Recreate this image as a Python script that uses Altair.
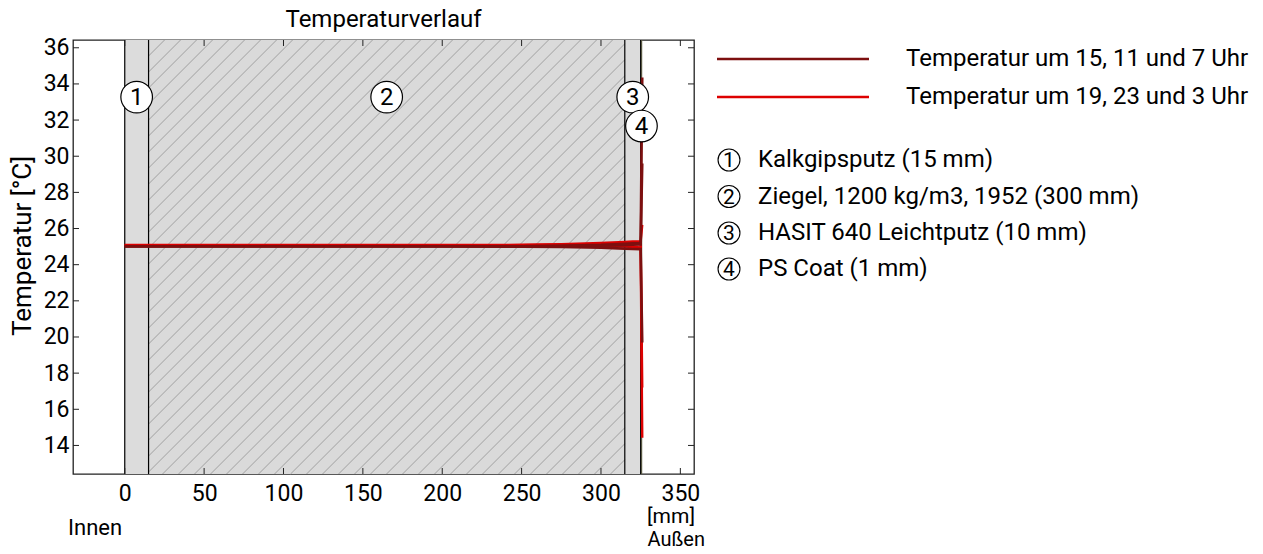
import altair as alt
import pandas as pd

W, H = 621, 434
X_DOMAIN = [-32.6, 358.6]
Y_DOMAIN = [12.42, 36.43]
FONT = "Roboto"

# wall layers
layer_names = ["Kalkgipsputz (15 mm)", "Ziegel, 1200 kg/m3, 1952 (300 mm)",
               "HASIT 640 Leichtputz (10 mm)", "PS Coat (1 mm)"]
layer_nums = ["1", "2", "3", "4"]
layer_x0 = [0, 15, 315, 325]
layer_x1 = [15, 315, 325, 326]
layer_fill = ["#dcdcdc", "#dadada", "#dcdcdc", "#76765a"]
label_x = [7.5, 165, 320, 325.5]
label_y = [33.27, 33.27, 33.27, 31.67]
boundaries = [0, 15, 315, 325]

# temperature profiles
profile_x = [0, 15, 50, 100, 150, 200, 250, 275, 300, 315, 320, 325, 326]
series_names = ["Temperatur um 15, 11 und 7 Uhr", "Temperatur um 19, 23 und 3 Uhr"]
series_colors = ["#7d0f0f", "#dd0000"]
profiles = {
    "15 Uhr": [25.02, 25.02, 25.02, 25.02, 25.02, 25.02, 25.02, 25.05, 25.10, 25.16, 25.18, 25.20, 34.35],
    "11 Uhr": [25.02, 25.02, 25.02, 25.02, 25.02, 25.02, 25.02, 25.03, 25.05, 25.08, 25.10, 25.12, 29.60],
    "7 Uhr":  [25.01, 25.01, 25.01, 25.01, 25.01, 25.01, 25.00, 24.98, 24.94, 24.89, 24.87, 24.86, 19.70],
    "19 Uhr": [25.09, 25.09, 25.09, 25.09, 25.09, 25.09, 25.10, 25.13, 25.20, 25.26, 25.28, 25.30, 26.20],
    "23 Uhr": [25.08, 25.08, 25.08, 25.08, 25.08, 25.08, 25.08, 25.10, 25.14, 25.17, 25.17, 25.16, 17.20],
    "3 Uhr":  [25.07, 25.07, 25.07, 25.07, 25.07, 25.07, 25.07, 25.06, 25.03, 25.00, 24.98, 24.96, 14.42],
}
profile_group = {"15 Uhr": 0, "11 Uhr": 0, "7 Uhr": 0, "19 Uhr": 1, "23 Uhr": 1, "3 Uhr": 1}

x_ticks = [0, 50, 100, 150, 200, 250, 300, 350]
y_ticks = [14, 16, 18, 20, 22, 24, 26, 28, 30, 32, 34, 36]

xs = alt.Scale(domain=X_DOMAIN, nice=False, zero=False)
ys = alt.Scale(domain=Y_DOMAIN, nice=False, zero=False)
xaxis = alt.Axis(values=x_ticks, ticks=False, domain=False, grid=False, title=None,
                 labelPadding=8, labelFontSize=23, labelFont=FONT, labelColor="black")
yaxis = alt.Axis(values=y_ticks, ticks=False, domain=False, grid=False, title=None,
                 labelPadding=4, labelFontSize=23, labelFont=FONT, labelColor="black")


def X(f):
    return alt.X(f, scale=xs, axis=xaxis)


def Y(f):
    return alt.Y(f, scale=ys, axis=yaxis)


# ---------- data frames ----------
layers_df = pd.DataFrame({"name": layer_names, "x0": layer_x0, "x1": layer_x1,
                          "fill": layer_fill, "num": layer_nums,
                          "lx": label_x, "ly": label_y})
bound_df = pd.DataFrame({"x": boundaries})

rows = []
for t, vals in profiles.items():
    for xv, tv in zip(profile_x, vals):
        rows.append({"time": t, "x": xv, "T": tv, "g": profile_group[t],
                     "series": series_names[profile_group[t]]})
prof_df = pd.DataFrame(rows)

# hatch texture for the brick layer (45 degrees in screen space)
sx = W / (X_DOMAIN[1] - X_DOMAIN[0])
sy = H / (Y_DOMAIN[1] - Y_DOMAIN[0])
u0 = (layer_x0[1] - X_DOMAIN[0]) * sx
u1 = (layer_x1[1] - X_DOMAIN[0]) * sx
hatch = []
step = 16.0
c = u0 - H
while c < u1:
    ua = max(u0, c)
    ub = min(u1, c + H)
    if ub > ua:
        hatch.append({"x": X_DOMAIN[0] + ua / sx, "y": Y_DOMAIN[0] + (ua - c) / sy,
                      "x2": X_DOMAIN[0] + ub / sx, "y2": Y_DOMAIN[0] + (ub - c) / sy})
    c += step
hatch_df = pd.DataFrame(hatch)

# ---------- layers ----------
rects = alt.Chart(layers_df).mark_rect(stroke=None).encode(
    x=X("x0:Q"), x2="x1:Q",
    y=alt.value(0), y2=alt.value(H),
    fill=alt.Fill("fill:N", scale=None),
)

hatch_lines = alt.Chart(hatch_df).mark_rule(color="#9a9a9a", strokeWidth=0.9).encode(
    x=X("x:Q"), y=Y("y:Q"), x2="x2:Q", y2="y2:Q",
)

bounds = alt.Chart(bound_df).mark_rule(color="black", strokeWidth=1.2).encode(
    x=X("x:Q"),
)

lines_bright = alt.Chart(prof_df[prof_df["g"] == 1]).mark_line(
    strokeWidth=2.4, color=series_colors[1]).encode(
    x=X("x:Q"), y=Y("T:Q"), detail="time:N", order=alt.Order("x:Q"),
)
lines_dark = alt.Chart(prof_df[prof_df["g"] == 0]).mark_line(
    strokeWidth=2.6, color=series_colors[0]).encode(
    x=X("x:Q"), y=Y("T:Q"), detail="time:N", order=alt.Order("x:Q"),
)

circles = alt.Chart(layers_df).mark_point(shape="circle", size=1000, filled=False,
                                           fill="white", fillOpacity=1,
                                           stroke="black", strokeWidth=1.2, opacity=1).encode(
    x=X("lx:Q"), y=Y("ly:Q"),
)
circle_txt = alt.Chart(layers_df).mark_text(font=FONT, fontSize=24, color="black",
                                             baseline="middle", align="center", dy=1).encode(
    x=X("lx:Q"), y=Y("ly:Q"), text="num:N",
)

# frame ticks (inward)
xt_df = pd.DataFrame({"v": x_ticks})
yt_df = pd.DataFrame({"v": y_ticks})
TL = 6
tick_bottom = alt.Chart(xt_df).mark_rule(color="#222", strokeWidth=1).encode(
    x=X("v:Q"), y=alt.value(H - TL), y2=alt.value(H))
tick_top = alt.Chart(xt_df).mark_rule(color="#222", strokeWidth=1).encode(
    x=X("v:Q"), y=alt.value(0), y2=alt.value(TL))
tick_left = alt.Chart(yt_df).mark_rule(color="#222", strokeWidth=1).encode(
    y=Y("v:Q"), x=alt.value(0), x2=alt.value(TL))
tick_right = alt.Chart(yt_df).mark_rule(color="#222", strokeWidth=1).encode(
    y=Y("v:Q"), x=alt.value(W - TL), x2=alt.value(W))


# texts
def txt(s, x, y, size=23, align="center", angle=0, baseline="middle"):
    return alt.Chart(pd.DataFrame({"t": [s]})).mark_text(
        font=FONT, fontSize=size, color="black", align=align, baseline=baseline,
        angle=angle).encode(x=alt.value(x), y=alt.value(y), text="t:N")


title = txt("Temperaturverlauf", W / 2, -13, size=24, baseline="alphabetic")
ytitle = txt("Temperatur [°C]", -50, 206, size=26, angle=270)
innen = txt("Innen", -5, 488, size=22, align="left")
mm = txt("[mm]", 622, 477, size=21, align="right")
aussen = txt("Außen", 632, 506, size=20, align="right", baseline="alphabetic")

# legend
legend_parts = []
leg_line_y = [19, 57]
for i, name in enumerate(series_names):
    legend_parts.append(
        alt.Chart(pd.DataFrame({"n": [name]})).mark_rule(color=series_colors[i], strokeWidth=2.4)
        .encode(x=alt.value(644), x2=alt.value(796), y=alt.value(leg_line_y[i])))
    legend_parts.append(txt(name, 833, leg_line_y[i], size=24, align="left"))

leg_item_y = [120, 156.5, 193, 229]
for i, name in enumerate(layer_names):
    legend_parts.append(
        alt.Chart(pd.DataFrame({"n": [name]})).mark_point(
            shape="circle", size=480, filled=False, stroke="black", strokeWidth=1.1, opacity=1)
        .encode(x=alt.value(656), y=alt.value(leg_item_y[i])))
    legend_parts.append(txt(layer_nums[i], 656, leg_item_y[i] + 1, size=21))
    legend_parts.append(txt(name, 685, leg_item_y[i], size=24, align="left"))

chart = alt.layer(
    rects, hatch_lines, bounds, lines_bright, lines_dark, circles, circle_txt,
    tick_bottom, tick_top, tick_left, tick_right,
    title, ytitle, innen, mm, aussen, *legend_parts
).properties(
    width=W, height=H,
    autosize=alt.AutoSizeParams(type="none"),
    padding={"left": 65, "top": 32, "right": 560, "bottom": 76},
).configure_view(stroke="#222", strokeWidth=1.3)

chart.save("out.html", embed_options={"renderer": "svg", "actions": False})
